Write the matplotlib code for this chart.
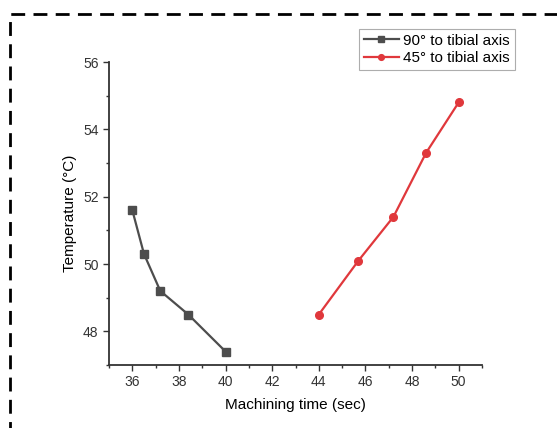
import matplotlib.pyplot as plt
from matplotlib.patches import Rectangle
from matplotlib.ticker import MultipleLocator

plt.rcParams['font.family'] = ['Liberation Sans', 'DejaVu Sans']

# data
time_90 = [36.0, 36.5, 37.2, 38.4, 40.0]
temp_90 = [51.6, 50.3, 49.2, 48.5, 47.4]
time_45 = [44.0, 45.7, 47.2, 48.6, 50.0]
temp_45 = [48.5, 50.1, 51.4, 53.3, 54.8]
labels = ['90° to tibial axis', '45° to tibial axis']

fig = plt.figure(figsize=(5.57, 4.28), dpi=100)
ax = fig.add_axes([109/557, 1 - 365/428, (482 - 109)/557, (365 - 62)/428])

ax.plot(time_90, temp_90, '-s', color='#4d4d4d', markersize=5.5, linewidth=1.6, label=labels[0])
ax.plot(time_45, temp_45, '-o', color='#e0383c', markersize=5.5, linewidth=1.6, label=labels[1])

ax.set_xlim(35, 51)
ax.set_ylim(47, 56)
ax.xaxis.set_major_locator(MultipleLocator(2))
ax.xaxis.set_minor_locator(MultipleLocator(1))
ax.yaxis.set_major_locator(MultipleLocator(2))
ax.yaxis.set_minor_locator(MultipleLocator(1))
for s in ['top', 'right']:
    ax.spines[s].set_visible(False)
for s in ['left', 'bottom']:
    ax.spines[s].set_linewidth(1.3)
    ax.spines[s].set_color('#333333')
ax.tick_params(which='major', length=4, width=1, labelsize=10, colors='#333333')
ax.tick_params(which='minor', length=2.5, width=1, colors='#333333')

ax.set_xlabel('Machining time (sec)', fontsize=11, labelpad=6)
ax.set_ylabel('Temperature (°C)', fontsize=11, labelpad=4)

leg = fig.legend(loc='upper left', bbox_to_anchor=(359/557, 1 - 29/428), fontsize=11,
                 frameon=True, fancybox=False, handlelength=2.3, handletextpad=0.3,
                 borderpad=0.3, labelspacing=0.25, borderaxespad=0, markerscale=0.75)
leg.get_frame().set_edgecolor('#999999')
leg.get_frame().set_linewidth(0.8)

# dashed border around the figure (runs off the right and bottom)
fig.patches.append(Rectangle((10/557, -0.1), 1.2, 1 - 14/428 + 0.1, transform=fig.transFigure,
                             fill=False, linestyle=(0, (5, 3)), linewidth=2, edgecolor='black'))

fig.savefig('out.png', dpi=100)
